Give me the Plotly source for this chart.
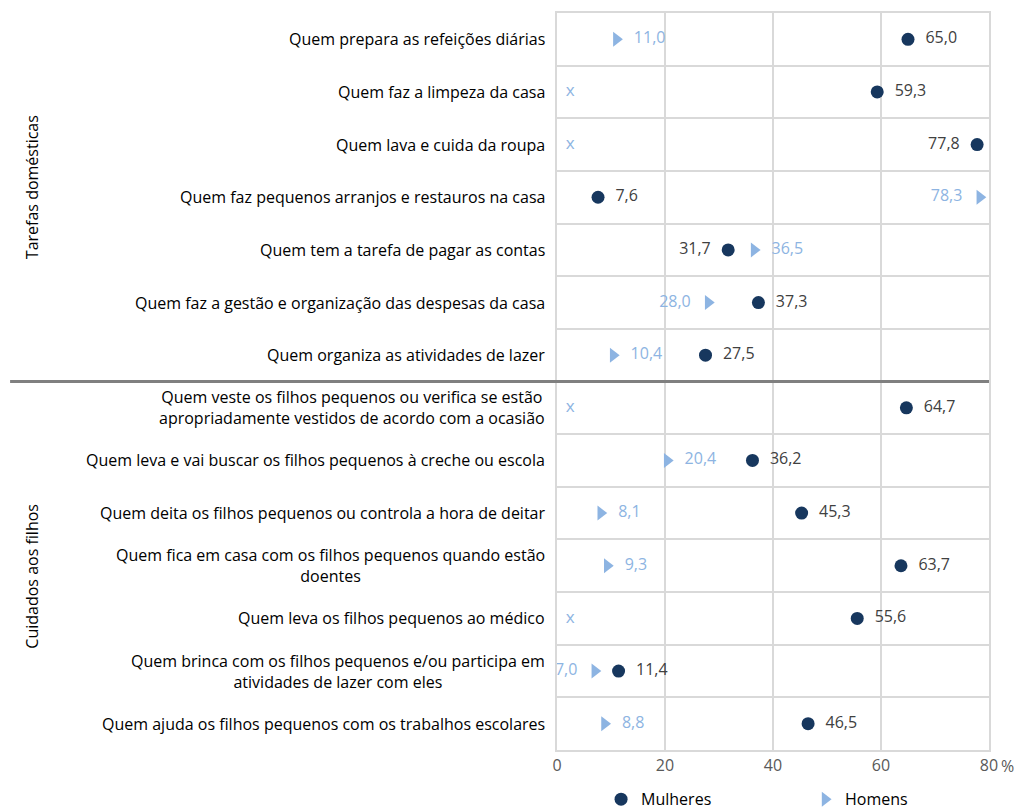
import plotly.graph_objects as go

# categorias (linhas de cima para baixo)
categorias = [
    "Quem prepara as refeições diárias",
    "Quem faz a limpeza da casa",
    "Quem lava e cuida da roupa",
    "Quem faz pequenos arranjos e restauros na casa",
    "Quem tem a tarefa de pagar as contas",
    "Quem faz a gestão e organização das despesas da casa",
    "Quem organiza as atividades de lazer",
    "Quem veste os filhos pequenos ou verifica se estão<br>apropriadamente vestidos de acordo com a ocasião",
    "Quem leva e vai buscar os filhos pequenos à creche ou escola",
    "Quem deita os filhos pequenos ou controla a hora de deitar",
    "Quem fica em casa com os filhos pequenos quando estão<br>doentes",
    "Quem leva os filhos pequenos ao médico",
    "Quem brinca com os filhos pequenos e/ou participa em<br>atividades de lazer com eles",
    "Quem ajuda os filhos pequenos com os trabalhos escolares",
]
mulheres = [65.0, 59.3, 77.8, 7.6, 31.7, 37.3, 27.5, 64.7, 36.2, 45.3, 63.7, 55.6, 11.4, 46.5]
homens = [11.0, None, None, 78.3, 36.5, 28.0, 10.4, None, 20.4, 8.1, 9.3, None, 7.0, 8.8]
grupos = ["Tarefas domésticas", "Cuidados aos filhos"]
grupo_linhas = [(0, 6), (7, 13)]
x_ticks = [0, 20, 40, 60, 80]

# lado do rótulo de cada ponto
lado_m = ["right"] * 14
lado_m[2] = "left"
lado_m[4] = "left"
lado_h = ["right"] * 14
lado_h[3] = "left"
lado_h[5] = "left"
lado_h[12] = "left"

FONT = "Open Sans, Arial, sans-serif"
NAVY = "#17375E"
LIGHT = "#8DB4E2"
GRID = "#D9D9D9"
NB = "\u00a0"


def rotulo(v, lado):
    if v is None:
        return ""
    s = f"{v:.1f}".replace(".", ",")
    return NB * 2 + s if lado == "right" else s + NB * 2


rows = list(range(len(categorias)))

fig = go.Figure()
fig.add_trace(go.Scatter(
    x=mulheres, y=rows, mode="markers+text", name="Mulheres",
    marker=dict(symbol="circle", size=13, color=NAVY),
    text=[rotulo(v, l) for v, l in zip(mulheres, lado_m)],
    textposition=["middle " + l for l in lado_m],
    textfont=dict(family=FONT, size=16, color="#404040"),
    cliponaxis=False,
))
fig.add_trace(go.Scatter(
    x=homens, y=rows, mode="markers+text", name="Homens",
    marker=dict(symbol="triangle-right", size=13, color=LIGHT),
    text=[rotulo(v, l) for v, l in zip(homens, lado_h)],
    textposition=["middle " + l for l in lado_h],
    textfont=dict(family=FONT, size=16, color=LIGHT),
    cliponaxis=False,
))
# valores em falta (x)
falta = [r for r, v in zip(rows, homens) if v is None]
fig.add_trace(go.Scatter(
    x=[0] * len(falta), y=falta, mode="text", text=[NB * 2 + "x"] * len(falta),
    textposition="middle right", showlegend=False,
    textfont=dict(family=FONT, size=17, color=LIGHT), hoverinfo="skip",
))

# rótulos das categorias
for r, c in zip(rows, categorias):
    fig.add_annotation(x=0, xref="paper", xanchor="right", xshift=-10, y=r, yref="y",
                       text=c, showarrow=False, align="center",
                       font=dict(family=FONT, size=16, color="#000000"))
# rótulos dos grupos
for g, (a, b), dy in zip(grupos, grupo_linhas, [10, -10]):
    fig.add_annotation(x=-1.2155, xref="paper", xanchor="center", y=(a + b) / 2, yref="y",
                       yshift=dy, text=g, textangle=-90, showarrow=False,
                       font=dict(family=FONT, size=16, color="#000000"))
fig.add_annotation(x=80, xref="x", y=0, yref="paper", yanchor="top", yshift=-3, xshift=10,
                   xanchor="left", text="%", showarrow=False,
                   font=dict(family=FONT, size=16, color="#595959"))
# separador entre grupos
fig.add_shape(type="line", xref="paper", yref="y", x0=-1.266, x1=1, y0=6.5, y1=6.5,
              line=dict(color="#808080", width=3))

fig.update_layout(
    width=1017, height=809,
    margin=dict(l=557, r=28, t=13, b=59, autoexpand=False),
    paper_bgcolor="white", plot_bgcolor="white",
    font=dict(family=FONT, size=16, color="#000000"),
    xaxis=dict(range=[0, 80], tickvals=x_ticks, ticktext=[str(t) for t in x_ticks],
               showgrid=True, gridcolor=GRID, gridwidth=1.5, zeroline=False,
               showline=True, linecolor=GRID, linewidth=1.5, mirror=True, automargin=False,
               tickfont=dict(family=FONT, size=16, color="#595959"), ticks=""),
    yaxis=dict(range=[13.5, -0.5], tickmode="linear", tick0=0.5, dtick=1,
               showticklabels=False, showgrid=True, gridcolor=GRID, gridwidth=1.5,
               zeroline=False, showline=True, linecolor=GRID, linewidth=1.5, mirror=True,
               automargin=False),
    legend=dict(orientation="h", x=0.102, xanchor="left", y=0.012, yref="container",
                yanchor="middle", entrywidth=159, entrywidthmode="pixels",
                font=dict(family=FONT, size=16, color="#000000")),
)

fig.write_html("out.html", config={"displayModeBar": False},
               post_script="document.body.style.margin='0';")
